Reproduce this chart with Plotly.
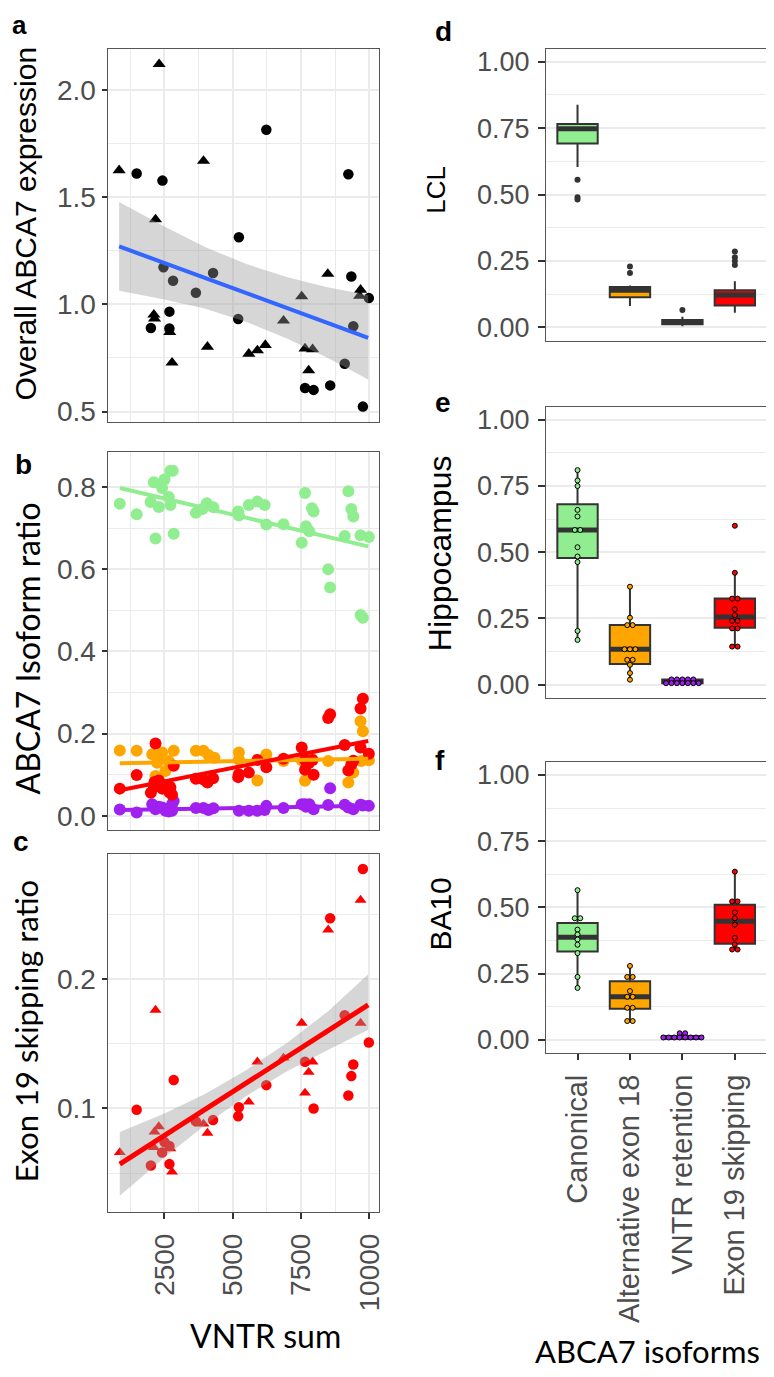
import plotly.graph_objects as go
from collections import defaultdict

# the page body adds an 8px margin, so the figure is drawn 8px smaller and shifted
W_REF, H_REF = 774, 1377
OFF = 8
W, H = W_REF - OFF, H_REF - OFF

# ---------------- data: panel a (overall expression) ----------------
a_tri_x = [842, 2306, 2173, 3928, 2113, 2137, 2694, 2778, 4073, 5586, 5900, 6190, 6856, 7522, 7643, 7920, 7776, 8477, 9675, 9640]
a_tri_y = [1.625, 2.12, 1.396, 1.669, 0.952, 0.933, 0.870, 0.728, 0.802, 0.769, 0.785, 0.810, 0.924, 1.037, 0.794, 0.790, 0.692, 1.142, 1.068, 1.040]
a_cir_x = [1484, 2427, 2464, 2815, 2682, 2682, 2004, 3650, 4279, 5223, 5198, 6227, 7643, 7957, 8562, 9095, 9228, 9337, 9409, 9760, 9978]
a_cir_y = [1.610, 1.577, 1.173, 1.110, 0.966, 0.887, 0.890, 1.054, 1.146, 1.313, 0.932, 1.814, 0.610, 0.601, 0.622, 0.723, 1.607, 1.130, 0.898, 0.523, 1.029]
a_fit_x = [842, 9954]
a_fit_y = [1.270, 0.844]
a_band_x = [842, 2500, 4000, 5500, 7000, 8500, 9954]
a_band_hi = [1.477, 1.363, 1.266, 1.188, 1.126, 1.078, 1.044]
a_band_lo = [1.063, 1.023, 0.980, 0.918, 0.840, 0.748, 0.650]

# ---------------- data: panel c (exon 19 skipping ratio) ----------------
c_tri_x = [866, 2173, 2137, 2294, 2113, 2718, 2778, 3928, 4073, 5586, 5900, 6856, 7522, 7643, 7776, 7920, 8490, 9675, 9675]
c_tri_y = [0.066, 0.176, 0.082, 0.086, 0.070, 0.069, 0.051, 0.088, 0.081, 0.105, 0.136, 0.139, 0.166, 0.112, 0.128, 0.136, 0.238, 0.261, 0.166]
c_cir_x = [1484, 2004, 2415, 2500, 2682, 2682, 2839, 3650, 4279, 5223, 5198, 6227, 7643, 7957, 8562, 9095, 9228, 9337, 9409, 9760, 9978]
c_cir_y = [0.099, 0.056, 0.066, 0.074, 0.071, 0.057, 0.122, 0.090, 0.091, 0.101, 0.094, 0.118, 0.136, 0.100, 0.247, 0.172, 0.110, 0.125, 0.134, 0.285, 0.151]
c_fit_x = [866, 9954]
c_fit_y = [0.057, 0.180]
c_band_x = [866, 2500, 4000, 5500, 7000, 8500, 9954]
c_band_hi = [0.0818, 0.0961, 0.1114, 0.1297, 0.1510, 0.1753, 0.2036]
c_band_lo = [0.0326, 0.0621, 0.0874, 0.1097, 0.1290, 0.1453, 0.1608]

# ---------------- data: panel b (isoform ratios) ----------------
b_green_x = [866, 1484, 1992, 2113, 2173, 2294, 2415, 2500, 2657, 2718, 2718, 2803, 2839, 3650, 3892, 4049, 4291, 5198, 5223, 5586,
             5900, 6166, 6227, 6856, 7522, 7643, 7679, 7800, 7897, 7957, 8490, 8562, 9095, 9228, 9337, 9409, 9675, 9675, 9760, 9978]
b_green_y = [0.760, 0.734, 0.764, 0.812, 0.675, 0.752, 0.798, 0.819, 0.776, 0.757, 0.840, 0.840, 0.687, 0.738, 0.747, 0.761, 0.751, 0.741, 0.731, 0.757,
             0.765, 0.757, 0.709, 0.710, 0.665, 0.786, 0.705, 0.693, 0.749, 0.741, 0.600, 0.556, 0.681, 0.790, 0.747, 0.729, 0.683, 0.489, 0.482, 0.679]
b_orange_x = [866, 1484, 2052, 2234, 2173, 2415, 2657, 2839, 2536, 3650, 3928, 4109, 4327, 5223, 5223, 5900, 6227, 6856, 7643, 7860,
              8490, 9228, 9409, 9675, 9760, 9700, 9978, 2294, 6166, 7522]
b_orange_y = [0.159, 0.158, 0.150, 0.129, 0.097, 0.154, 0.133, 0.158, 0.109, 0.158, 0.158, 0.148, 0.141, 0.154, 0.137, 0.086, 0.149, 0.133, 0.085, 0.141,
              0.133, 0.081, 0.105, 0.230, 0.206, 0.133, 0.135, 0.145, 0.140, 0.135]
b_purple_x = [866, 1484, 2052, 2173, 2415, 2536, 2778, 2778, 2839, 3650, 3928, 4109, 5223, 5586, 5900, 6227, 6856, 7522, 7643, 7800,
              7957, 8490, 8562, 9095, 9409, 9675, 9978, 2294, 2657, 4291, 6166, 9228, 9760, 7679]
b_purple_y = [0.015, 0.008, 0.028, 0.016, 0.020, 0.012, 0.028, 0.012, 0.036, 0.019, 0.019, 0.014, 0.012, 0.012, 0.012, 0.024, 0.019, 0.028, 0.028, 0.028,
              0.016, 0.026, 0.067, 0.027, 0.016, 0.027, 0.024, 0.022, 0.010, 0.018, 0.014, 0.020, 0.025, 0.022]
b_red_x = c_tri_x + c_cir_x
b_red_y = c_tri_y + c_cir_y
b_fit_x = [866, 9954]
b_green_fit = [0.798, 0.656]
b_orange_fit = [0.128, 0.139]
b_purple_fit = [0.014, 0.024]
b_red_fit = [0.062, 0.182]

# ---------------- data: panels d-f (box plots) ----------------
isoforms = ["Canonical", "Alternative exon 18", "VNTR retention", "Exon 19 skipping"]
iso_colors = ["#90EE90", "#FFA500", "#A020F0", "#FF0000"]

d_q1 = [0.692, 0.113, 0.011, 0.082]
d_med = [0.748, 0.139, 0.018, 0.122]
d_q3 = [0.766, 0.152, 0.027, 0.139]
d_lo = [0.604, 0.080, 0.004, 0.055]
d_hi = [0.838, 0.157, 0.040, 0.173]
d_outliers = [[0.556, 0.490, 0.481], [0.229, 0.204], [0.065], [0.285, 0.264, 0.250, 0.235]]

e_q1 = [0.478, 0.078, 0.006, 0.215]
e_med = [0.584, 0.134, 0.012, 0.256]
e_q3 = [0.681, 0.225, 0.020, 0.325]
e_lo = [0.169, 0.019, 0.006, 0.144]
e_hi = [0.810, 0.370, 0.020, 0.4225]
e_dots = [
    [0.810, 0.771, 0.750, 0.660, 0.635, 0.584, 0.584, 0.519, 0.484, 0.463, 0.203, 0.169],
    [0.370, 0.253, 0.225, 0.225, 0.134, 0.134, 0.134, 0.094, 0.094, 0.075, 0.044, 0.019],
    [0.020, 0.020, 0.020, 0.020, 0.020, 0.006, 0.006, 0.006, 0.006, 0.006, 0.006, 0.006],
    [0.600, 0.4225, 0.325, 0.325, 0.285, 0.2625, 0.241, 0.241, 0.2125, 0.2125, 0.144, 0.144],
]

f_q1 = [0.334, 0.1175, 0.009, 0.3625]
f_med = [0.3875, 0.1625, 0.009, 0.4475]
f_q3 = [0.441, 0.221, 0.015, 0.510]
f_lo = [0.196, 0.071, 0.009, 0.341]
f_hi = [0.565, 0.279, 0.025, 0.635]
f_dots = [
    [0.565, 0.459, 0.459, 0.416, 0.398, 0.379, 0.359, 0.3275, 0.2375, 0.196],
    [0.279, 0.2375, 0.2375, 0.184, 0.1625, 0.1625, 0.121, 0.121, 0.071, 0.071],
    [0.025, 0.025, 0.009, 0.009, 0.009, 0.009, 0.009, 0.009, 0.009, 0.009],
    [0.635, 0.5225, 0.5225, 0.481, 0.459, 0.435, 0.385, 0.360, 0.341, 0.341],
]

# tick labels
x_ticks = [2500, 5000, 7500, 10000]
x_ticklabels = ["2500", "5000", "7500", "10000"]
x_minor = [1250, 3750, 6250, 8750]
a_yticks = [0.5, 1.0, 1.5, 2.0]
a_yticklabels = ["0.5", "1.0", "1.5", "2.0"]
a_yminor = [0.75, 1.25, 1.75]
b_yticks = [0.0, 0.2, 0.4, 0.6, 0.8]
b_yticklabels = ["0.0", "0.2", "0.4", "0.6", "0.8"]
b_yminor = [0.1, 0.3, 0.5, 0.7]
c_yticks = [0.1, 0.2]
c_yticklabels = ["0.1", "0.2"]
c_yminor = [0.05, 0.15, 0.25]
r_yticks = [0.0, 0.25, 0.5, 0.75, 1.0]
r_yticklabels = ["0.00", "0.25", "0.50", "0.75", "1.00"]
r_yminor = [0.125, 0.375, 0.625, 0.875]

# ---------------- styling ----------------
GRID = "#EBEBEB"
BORDER = "#555555"
TICKC = "#333333"
TXT = "#4D4D4D"
HELV = "Liberation Sans, Arial, sans-serif"
CALI = "Lato, Open Sans, sans-serif"
BAND = "rgba(153,153,153,0.4)"

fig = go.Figure()


def xd(p0, p1):
    return [(p0 - OFF) / W, (p1 - OFF) / W]


def yd(p0, p1):
    return [1 - (p1 - OFF) / H, 1 - (p0 - OFF) / H]


# panel a
fig.add_trace(go.Scatter(x=a_tri_x, y=a_tri_y, mode="markers", xaxis="x", yaxis="y",
                         marker=dict(symbol="triangle-up", size=11.5, color="black")))
fig.add_trace(go.Scatter(x=a_cir_x, y=a_cir_y, mode="markers", xaxis="x", yaxis="y",
                         marker=dict(symbol="circle", size=10.5, color="black")))
fig.add_trace(go.Scatter(x=a_band_x + a_band_x[::-1], y=a_band_hi + a_band_lo[::-1], mode="lines",
                         fill="toself", fillcolor=BAND, line=dict(width=0), xaxis="x", yaxis="y"))
fig.add_trace(go.Scatter(x=a_fit_x, y=a_fit_y, mode="lines", line=dict(color="#3366FF", width=4),
                         xaxis="x", yaxis="y"))

# panel b
for xs, ys, col in [(b_green_x, b_green_y, iso_colors[0]), (b_orange_x, b_orange_y, iso_colors[1]),
                    (b_purple_x, b_purple_y, iso_colors[2]), (b_red_x, b_red_y, iso_colors[3])]:
    fig.add_trace(go.Scatter(x=xs, y=ys, mode="markers", xaxis="x2", yaxis="y2",
                             marker=dict(symbol="circle", size=12, color=col)))
for fy, col in [(b_green_fit, iso_colors[0]), (b_orange_fit, iso_colors[1]),
                (b_purple_fit, iso_colors[2]), (b_red_fit, iso_colors[3])]:
    fig.add_trace(go.Scatter(x=b_fit_x, y=fy, mode="lines", line=dict(color=col, width=4),
                             xaxis="x2", yaxis="y2"))

# panel c
fig.add_trace(go.Scatter(x=c_tri_x, y=c_tri_y, mode="markers", xaxis="x3", yaxis="y3",
                         marker=dict(symbol="triangle-up", size=10.5, color="#FF0000")))
fig.add_trace(go.Scatter(x=c_cir_x, y=c_cir_y, mode="markers", xaxis="x3", yaxis="y3",
                         marker=dict(symbol="circle", size=10.5, color="#FF0000")))
fig.add_trace(go.Scatter(x=c_band_x + c_band_x[::-1], y=c_band_hi + c_band_lo[::-1], mode="lines",
                         fill="toself", fillcolor=BAND, line=dict(width=0), xaxis="x3", yaxis="y3"))
fig.add_trace(go.Scatter(x=c_fit_x, y=c_fit_y, mode="lines", line=dict(color="#FF0000", width=5),
                         xaxis="x3", yaxis="y3"))

# right column boxes
BOXW = 0.77
DOT_SPACING = 0.104
positions = [1, 2, 3, 4]


def dot_offsets(vals, spacing):
    groups = defaultdict(list)
    for i, v in enumerate(vals):
        groups[v].append(i)
    off = [0.0] * len(vals)
    for v, idx in groups.items():
        n = len(idx)
        for k, i in enumerate(idx):
            off[i] = (k - (n - 1) / 2) * spacing
    return off


def add_boxes(xa, ya, q1, med, q3, lo, hi, dots=None, outliers=None):
    for i, pos in enumerate(positions):
        fig.add_trace(go.Box(x=[pos], q1=[q1[i]], median=[med[i]], q3=[q3[i]],
                             lowerfence=[lo[i]], upperfence=[hi[i]], width=BOXW, whiskerwidth=0,
                             fillcolor=iso_colors[i], line=dict(color="#333333", width=2),
                             boxpoints=False, xaxis=xa, yaxis=ya))
        fig.add_trace(go.Box(x=[pos], q1=[med[i]], median=[med[i]], q3=[med[i]],
                             lowerfence=[med[i]], upperfence=[med[i]], width=BOXW, whiskerwidth=0,
                             fillcolor="rgba(0,0,0,0)", line=dict(color="#333333", width=5),
                             boxpoints=False, xaxis=xa, yaxis=ya))
        if outliers is not None and outliers[i]:
            fig.add_trace(go.Scatter(x=[pos] * len(outliers[i]), y=outliers[i], mode="markers",
                                     marker=dict(size=6, color="#333333"), xaxis=xa, yaxis=ya))
        if dots is not None:
            offs = dot_offsets(dots[i], DOT_SPACING)
            fig.add_trace(go.Scatter(x=[pos + o for o in offs], y=dots[i], mode="markers",
                                     marker=dict(size=5, color=iso_colors[i],
                                                 line=dict(color="black", width=1)),
                                     xaxis=xa, yaxis=ya))


add_boxes("x4", "y4", d_q1, d_med, d_q3, d_lo, d_hi, outliers=d_outliers)
add_boxes("x5", "y5", e_q1, e_med, e_q3, e_lo, e_hi, dots=e_dots)
add_boxes("x6", "y6", f_q1, f_med, f_q3, f_lo, f_hi, dots=f_dots)

# ---------------- axes ----------------
LX = xd(108.3, 381.7)
RX = xd(550.3, 772.3)


def left_x(domain, anchor, show):
    d = dict(domain=domain, anchor=anchor, range=[417, 10341], showline=True, mirror=True,
             linecolor=BORDER, linewidth=1, zeroline=False, showgrid=True, gridcolor=GRID, gridwidth=1.6,
             tickmode="array", tickvals=x_ticks, ticktext=x_ticklabels,
             minor=dict(tickvals=x_minor, showgrid=True, gridcolor=GRID, gridwidth=0.8, ticks=""))
    if show:
        d.update(ticks="outside", ticklen=6, tickcolor=TICKC, tickwidth=1.5, showticklabels=True,
                 tickangle=-90, tickfont=dict(family=HELV, size=28, color=TXT), ticklabelstandoff=3)
    else:
        d.update(ticks="", showticklabels=False)
    return d


def left_y(domain, anchor, rng, tv, tt, mv):
    return dict(domain=domain, anchor=anchor, range=rng, showline=True, mirror=True,
                linecolor=BORDER, linewidth=1, zeroline=False, showgrid=True, gridcolor=GRID, gridwidth=1.6,
                tickmode="array", tickvals=tv, ticktext=tt, ticks="outside", ticklen=5, tickcolor=TICKC,
                tickwidth=1.5, tickfont=dict(family=HELV, size=28, color=TXT),
                minor=dict(tickvals=mv, showgrid=True, gridcolor=GRID, gridwidth=0.8, ticks=""))


def right_x(domain, anchor, show):
    d = dict(domain=domain, anchor=anchor, range=[0.4, 4.6], showline=True, mirror=True,
             linecolor=BORDER, linewidth=1, zeroline=False, showgrid=False,
             tickmode="array", tickvals=positions, ticktext=isoforms)
    if show:
        d.update(ticks="outside", ticklen=6, tickcolor=TICKC, tickwidth=1.5, showticklabels=True,
                 tickangle=-90, tickfont=dict(family=HELV, size=29, color=TXT), ticklabelstandoff=3)
    else:
        d.update(ticks="", showticklabels=False)
    return d


def right_y(domain, anchor):
    return dict(domain=domain, anchor=anchor, range=[-0.05, 1.05], showline=True, mirror=True,
                linecolor=BORDER, linewidth=1, zeroline=False, showgrid=True, gridcolor=GRID, gridwidth=1.6,
                tickmode="array", tickvals=r_yticks, ticktext=r_yticklabels, ticks="outside", ticklen=7,
                tickcolor=TICKC, tickwidth=1.5, tickfont=dict(family=HELV, size=27, color=TXT),
                ticklabelstandoff=3,
                minor=dict(tickvals=r_yminor, showgrid=True, gridcolor=GRID, gridwidth=0.8, ticks=""))


fig.update_layout(
    xaxis=left_x(LX, "y", False),
    yaxis=left_y(yd(47.7, 423.3), "x", [0.449, 2.193], a_yticks, a_yticklabels, a_yminor),
    xaxis2=left_x(LX, "y2", False),
    yaxis2=left_y(yd(453.3, 832.3), "x2", [-0.034, 0.885], b_yticks, b_yticklabels, b_yminor),
    xaxis3=left_x(LX, "y3", True),
    yaxis3=left_y(yd(856.7, 1216.7), "x3", [0.0197, 0.2966], c_yticks, c_yticklabels, c_yminor),
    xaxis4=right_x(RX, "y4", False),
    yaxis4=right_y(yd(47.7, 341.0), "x4"),
    xaxis5=right_x(RX, "y5", False),
    yaxis5=right_y(yd(407.3, 700.0), "x5"),
    xaxis6=right_x(RX, "y6", True),
    yaxis6=right_y(yd(764.0, 1056.7), "x6"),
)


# ---------------- annotations ----------------
def ann(text, xp, yp, size, family, angle=0, bold=False, color="black"):
    t = "<b>%s</b>" % text if bold else text
    return dict(text=t, x=(xp - OFF) / W, y=1 - (yp - OFF) / H, xref="paper", yref="paper",
                xanchor="center", yanchor="middle", showarrow=False, textangle=angle,
                font=dict(family=family, size=size, color=color))


annotations = [
    ann("a", 20, 24, 26, HELV, bold=True),
    ann("b", 24, 466, 28, HELV, bold=True),
    ann("c", 21, 844, 28, HELV, bold=True),
    ann("d", 447, 31, 28, HELV, bold=True),
    ann("e", 446, 403, 28, HELV, bold=True),
    ann("f", 443, 763, 28, HELV, bold=True),
    ann("Overall ABCA7 expression", 25.5, 223, 30, HELV, angle=-90),
    ann("ABCA7 Isoform ratio", 27.5, 650, 32, CALI, angle=-90),
    ann("Exon 19 skipping ratio", 27, 1035, 31, CALI, angle=-90),
    ann("LCL", 440, 190, 26, HELV, angle=-90),
    ann("Hippocampus", 443, 555, 32, HELV, angle=-90),
    ann("BA10", 443, 917, 30, HELV, angle=-90),
    ann("VNTR sum", 268, 1340, 32, CALI),
    ann("ABCA7 isoforms", 653, 1356, 31, CALI),
]

fig.update_layout(
    width=W, height=H, margin=dict(l=0, r=0, t=0, b=0),
    paper_bgcolor="white", plot_bgcolor="white", showlegend=False,
    boxmode="overlay", annotations=annotations,
)

fig.write_html("out.html")
